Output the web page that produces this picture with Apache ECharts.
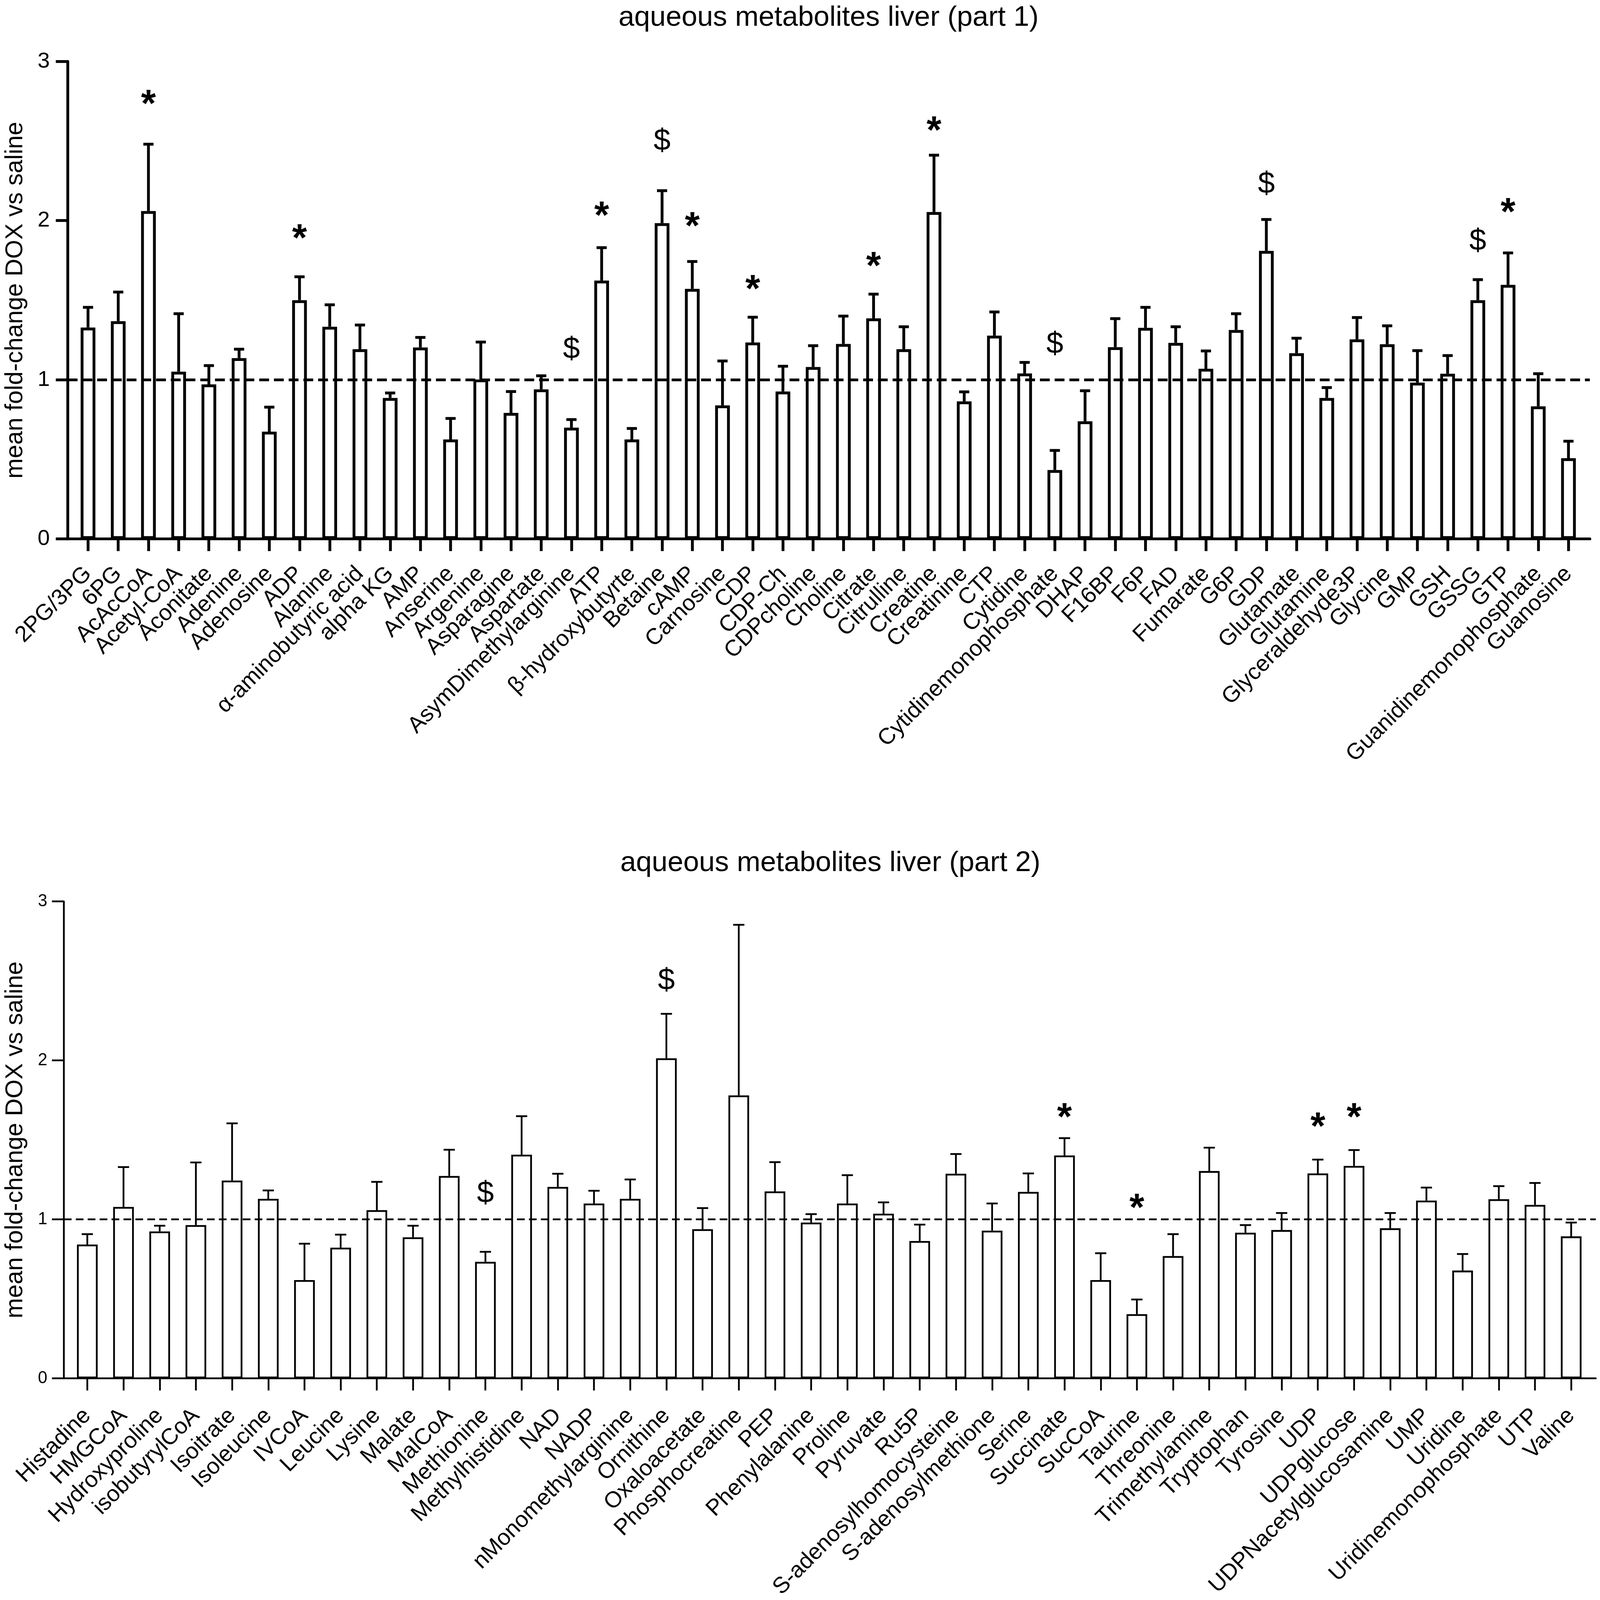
<!DOCTYPE html>
<html>
<head>
<meta charset="utf-8">
<script src="https://cdn.jsdelivr.net/npm/echarts@6/dist/echarts.min.js"></script>
<style>
html,body{margin:0;padding:0;background:#fff;overflow:hidden;}
</style>
</head>
<body>
<div id="chart"></div>
<script>
// ---------- Part 1 ----------
const cats1 = ['2PG/3PG','6PG','AcAcCoA','Acetyl-CoA','Aconitate','Adenine','Adenosine','ADP','Alanine','α-aminobutyric acid','alpha KG','AMP','Anserine','Argenine','Asparagine','Aspartate','AsymDimethylarginine','ATP','β-hydroxybutyrte','Betaine','cAMP','Carnosine','CDP','CDP-Ch','CDPcholine','Choline','Citrate','Citrulline','Creatine','Creatinine','CTP','Cytidine','Cytidinemonophosphate','DHAP','F16BP','F6P','FAD','Fumarate','G6P','GDP','Glutamate','Glutamine','Glyceraldehyde3P','Glycine','GMP','GSH','GSSG','GTP','Guanidinemonophosphate','Guanosine'];
const vals1 = [1.328,1.368,2.060,1.051,0.971,1.136,0.674,1.50,1.333,1.192,0.886,1.203,0.625,1.002,0.792,0.940,0.699,1.623,0.625,1.984,1.571,0.839,1.234,0.926,1.080,1.225,1.386,1.192,2.054,0.864,1.277,1.040,0.433,0.739,1.205,1.326,1.232,1.069,1.313,1.810,1.167,0.886,1.254,1.223,0.982,1.038,1.50,1.596,0.833,0.507];
const errTop1 = [1.455,1.551,2.480,1.415,1.089,1.192,0.828,1.647,1.471,1.344,0.917,1.266,0.757,1.237,0.926,1.025,0.75,1.830,0.694,2.188,1.743,1.118,1.393,1.085,1.214,1.40,1.538,1.333,2.411,0.924,1.426,1.109,0.556,0.931,1.384,1.455,1.333,1.181,1.415,2.007,1.261,0.951,1.391,1.339,1.183,1.152,1.629,1.797,1.038,0.614];
const stars1 = [[2,2.775],[7,1.93],[17,2.073],[20,2.006],[22,1.611],[26,1.757],[28,2.609],[47,2.096]];
const dollars1 = [[16,1.187],[19,2.497],[32,1.22],[39,2.226],[46,1.867]];

// ---------- Part 2 ----------
const cats2 = ['Histadine','HMGCoA','Hydroxyproline','isobutyrylCoA','Isoitrate','Isoleucine','IVCoA','Leucine','Lysine','Malate','MalCoA','Methionine','Methylhistidine','NAD','NADP','nMonomethylarginine','Ornithine','Oxaloacetate','Phosphocreatine','PEP','Phenylalanine','Proline','Pyruvate','Ru5P','S-adenosylhomocysteine','S-adenosylmethione','Serine','Succinate','SucCoA','Taurine','Threonine','Trimethylamine','Tryptophan','Tyrosine','UDP','UDPglucose','UDPNacetylglucosamine','UMP','Uridine','Uridinemonophosphate','UTP','Valine'];
const vals2 = [0.842,1.078,0.924,0.964,1.244,1.129,0.618,0.822,1.058,0.887,1.273,0.733,1.407,1.204,1.10,1.129,2.013,0.938,1.780,1.176,0.98,1.10,1.036,0.864,1.287,0.929,1.173,1.402,0.618,0.404,0.769,1.304,0.916,0.933,1.289,1.336,0.944,1.118,0.678,1.127,1.091,0.893];
const errTop2 = [0.907,1.329,0.96,1.358,1.604,1.182,0.847,0.904,1.236,0.96,1.438,0.796,1.649,1.287,1.18,1.251,2.293,1.071,2.853,1.36,1.033,1.278,1.107,0.967,1.411,1.10,1.289,1.511,0.787,0.496,0.907,1.451,0.964,1.04,1.376,1.436,1.04,1.20,0.782,1.209,1.229,0.98];
const stars2 = [[27,1.685],[29,1.114],[34,1.625],[35,1.685]];
const dollars2 = [[11,1.159],[16,2.50]];

const FONT = "'Liberation Sans', Arial, Helvetica, sans-serif";

// layout is designed for a 4562x4480 canvas and scaled to the actual window
const W = window.innerWidth || 4562;
const H = window.innerHeight || 4480;
const sx = W / 4562, sy = H / 4480, sf = (sx + sy) / 2;
const X = v => v * sx, Y = v => v * sy, F = v => v * sf;

const el = document.getElementById('chart');
el.style.width = W + 'px';
el.style.height = H + 'px';

function errRender(capW, lw){
  return function(params, api){
    const x = api.value(0), m = api.value(1), t = api.value(2);
    const p0 = api.coord([x, m]);
    const p1 = api.coord([x, t]);
    return {type:'group', children:[
      {type:'line', shape:{x1:p0[0], y1:p0[1], x2:p1[0], y2:p1[1]}, style:{stroke:'#000', lineWidth:lw}},
      {type:'line', shape:{x1:p1[0]-capW/2, y1:p1[1], x2:p1[0]+capW/2, y2:p1[1]}, style:{stroke:'#000', lineWidth:lw}}
    ]};
  };
}

function xAxisCfg(cats, gi, min, max, lw, margin){
  const idx = cats.map((_, i) => i);
  // dummy first/last label values (empty text) so that no real label gets auto-hidden
  const labelVals = [min].concat(idx, [max]);
  return {
    type:'value', gridIndex:gi, min:min, max:max,
    axisLine:{show:true, onZero:false, lineStyle:{color:'#000', width:lw}},
    axisTick:{show:true, customValues:idx, length:Y(34), lineStyle:{color:'#000', width:lw}},
    axisLabel:{show:true, customValues:labelVals, rotate:45, margin:Y(margin), fontSize:F(64), fontFamily:FONT, color:'#000',
      showMinLabel:false, showMaxLabel:false, hideOverlap:false,
      formatter: v => (Math.abs(v - Math.round(v)) < 1e-6 && cats[Math.round(v)] !== undefined) ? cats[Math.round(v)] : ''},
    splitLine:{show:false}
  };
}

function yAxisCfg(gi, lw, fs, margin, nameGap){
  return {
    type:'value', gridIndex:gi, min:0, max:3, interval:1,
    name:'mean fold-change DOX vs saline', nameLocation:'middle', nameGap:X(nameGap),
    nameTextStyle:{fontSize:F(69), fontFamily:FONT, color:'#000'},
    axisLine:{show:true, onZero:false, lineStyle:{color:'#000', width:lw}},
    axisTick:{show:true, length:X(34), lineStyle:{color:'#000', width:lw}},
    axisLabel:{fontSize:F(fs), fontFamily:FONT, color:'#000', margin:X(margin)},
    splitLine:{show:false}
  };
}

function seriesFor(gi, vals, errTop, stars, dollars, barW, lw, capW, dash){
  return [
    {type:'bar', xAxisIndex:gi, yAxisIndex:gi, barWidth:X(barW), silent:true,
      data: vals.map((v, i) => [i, v]),
      itemStyle:{color:'#fff', borderColor:'#000', borderWidth:lw},
      markLine:{silent:true, symbol:'none', z:10, label:{show:false},
        lineStyle:{type:dash.map(X), width:lw, color:'#000', opacity:1}, data:[{yAxis:1}]}
    },
    {type:'custom', xAxisIndex:gi, yAxisIndex:gi, silent:true, z:3,
      data: vals.map((v, i) => [i, v, errTop[i]]),
      renderItem: errRender(X(capW), lw)},
    {type:'scatter', xAxisIndex:gi, yAxisIndex:gi, silent:true, symbolSize:1, z:6,
      itemStyle:{color:'rgba(0,0,0,0)', opacity:1}, data: stars,
      label:{show:true, position:'inside', formatter:'*', fontSize:F(108), fontWeight:'bold', fontFamily:FONT, color:'#000', opacity:1, offset:[0, Y(24)]}},
    {type:'scatter', xAxisIndex:gi, yAxisIndex:gi, silent:true, symbolSize:1, z:6,
      itemStyle:{color:'rgba(0,0,0,0)', opacity:1}, data: dollars,
      label:{show:true, position:'inside', formatter:'$', fontSize:F(86), fontFamily:FONT, color:'#000', opacity:1}}
  ];
}

const chart = echarts.init(el, null, {renderer:'canvas', width:W, height:H});
chart.setOption({
  animation:false,
  backgroundColor:'#fff',
  title:[
    {text:'aqueous metabolites liver (part 1)', left:X(2357), top:Y(5), textAlign:'center',
      textStyle:{fontSize:F(80), fontWeight:'normal', fontFamily:FONT, color:'#000'}},
    {text:'aqueous metabolites liver (part 2)', left:X(2362), top:Y(2372), textAlign:'center',
      textStyle:{fontSize:F(80), fontWeight:'normal', fontFamily:FONT, color:'#000'}}
  ],
  grid:[
    {left:X(184), top:Y(172), width:X(4349), height:Y(1337)},
    {left:X(173), top:Y(2524), width:X(4377), height:Y(1347)}
  ],
  xAxis:[
    xAxisCfg(cats1, 0, -0.672, 49.707, F(8), 88),
    xAxisCfg(cats2, 1, -0.648, 41.68, F(5), 95)
  ],
  yAxis:[
    yAxisCfg(0, F(8), 62, 51, 114),
    yAxisCfg(1, F(5), 48, 47, 103)
  ],
  series:[].concat(
    seriesFor(0, vals1, errTop1, stars1, dollars1, 42, F(8), 29, [28,14]),
    seriesFor(1, vals2, errTop2, stars2, dollars2, 59, F(5), 32, [22,12])
  )
});
</script>
</body>
</html>
